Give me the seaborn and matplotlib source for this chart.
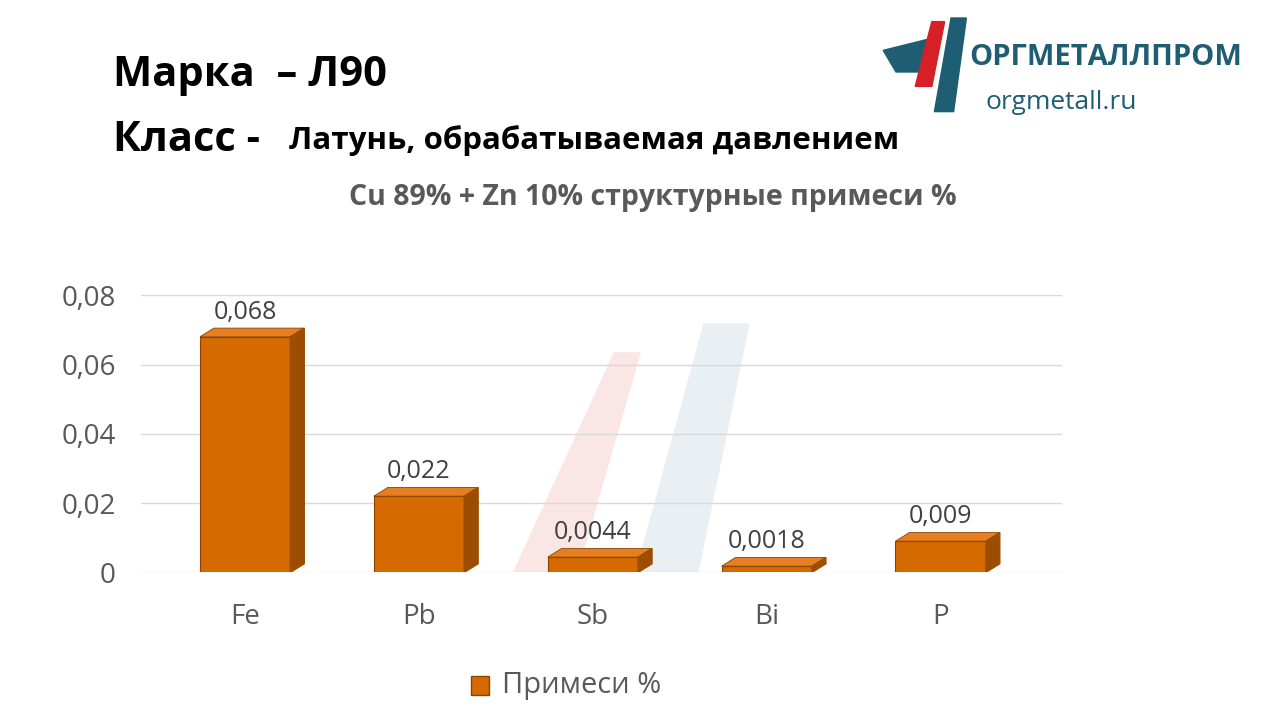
import matplotlib.pyplot as plt
import seaborn as sns
import pandas as pd
from matplotlib.patches import Polygon

elements = ['Fe', 'Pb', 'Sb', 'Bi', 'P']
values = [0.068, 0.022, 0.0044, 0.0018, 0.009]
labels = ['0,068', '0,022', '0,0044', '0,0018', '0,009']
yticks = [0, 0.02, 0.04, 0.06, 0.08]
ytick_labels = ['0', '0,02', '0,04', '0,06', '0,08']

df = pd.DataFrame({'el': elements, 'val': values})
orange = '#D46A00'

fig = plt.figure(figsize=(12.8, 7.2), dpi=100)
fig.patch.set_facecolor('white')

ax = fig.add_axes([0.11, 0.205, 0.72, 0.385])
ax.set_facecolor('none')

# faint watermark behind the bars
ax.add_patch(Polygon([[0.40, 0.2], [0.45, 0.2], [0.50, 0.51], [0.48, 0.51]], closed=True,
                     transform=fig.transFigure, color='#fbe6e6', zorder=1))
ax.add_patch(Polygon([[0.49, 0.16], [0.54, 0.16], [0.585, 0.55], [0.55, 0.55]], closed=True,
                     transform=fig.transFigure, color='#e9eff2', zorder=1))

sns.barplot(data=df, x='el', y='val', color=orange, width=0.52, ax=ax, zorder=3,
            edgecolor='#8a4300', linewidth=0.8, saturation=1)
for i, (v, lab) in enumerate(zip(values, labels)):
    # simple top and side faces for a 3D look
    ax.add_patch(Polygon([[i - 0.26, v], [i + 0.26, v], [i + 0.34, v + 0.0025], [i - 0.18, v + 0.0025]],
                         closed=True, color='#E67E22', ec='#8a4300', lw=0.6, zorder=4))
    ax.add_patch(Polygon([[i + 0.26, 0], [i + 0.26, v], [i + 0.34, v + 0.0025], [i + 0.34, 0.0025]],
                         closed=True, color='#9c4d00', zorder=4))
    ax.text(i, v + 0.0035, lab, ha='center', va='bottom', fontsize=18, color='#404040',
            family='Open Sans', zorder=5)

ax.set_ylim(0, 0.08)
ax.set_xlim(-0.6, 4.7)
ax.set_yticks(yticks)
ax.set_yticklabels(ytick_labels, fontsize=20, color='#595959', family='Open Sans')
ax.tick_params(axis='x', labelsize=20, colors='#595959', length=0, pad=22)
for t in ax.get_xticklabels():
    t.set_family('Open Sans')
ax.tick_params(axis='y', length=0, pad=18)
ax.grid(axis='y', color='#d9d9d9', lw=1, zorder=0)
ax.set_xlabel('')
ax.set_ylabel('')
for s in ax.spines.values():
    s.set_visible(False)

fig.text(0.088, 0.895, 'Марка  – Л90', fontsize=30, fontweight='bold', family='Open Sans', va='center')
fig.text(0.088, 0.805, 'Класс - ', fontsize=30, fontweight='bold', family='Open Sans', va='center')
fig.text(0.226, 0.805, 'Латунь, обрабатываемая давлением', fontsize=22.5, fontweight='bold',
         family='Open Sans', va='center')
fig.text(0.51, 0.725, 'Cu 89% + Zn 10% структурные примеси %', fontsize=20.5, fontweight='bold',
         color='#595959', family='Open Sans', ha='center', va='center')

# logo
fig.patches.append(Polygon([[0.69, 0.93], [0.735, 0.95], [0.72, 0.90], [0.70, 0.90]], closed=True,
                           transform=fig.transFigure, color='#1f5d73'))
fig.patches.append(Polygon([[0.715, 0.88], [0.728, 0.88], [0.738, 0.97], [0.728, 0.97]], closed=True,
                           transform=fig.transFigure, color='#d62027'))
fig.patches.append(Polygon([[0.73, 0.845], [0.745, 0.845], [0.755, 0.975], [0.743, 0.975]], closed=True,
                           transform=fig.transFigure, color='#1f5d73'))
fig.text(0.757, 0.92, 'ОРГМЕТАЛЛПРОМ', fontsize=21, fontweight='bold', color='#1f5d73',
         family='Open Sans', va='center')
fig.text(0.77, 0.858, 'orgmetall.ru', fontsize=19, color='#1f5d73', family='Open Sans', va='center')

# legend
fig.patches.append(plt.Rectangle((0.368, 0.035), 0.014, 0.026, transform=fig.transFigure,
                                 color=orange, ec='#8a4300'))
fig.text(0.392, 0.048, 'Примеси %', fontsize=21, color='#595959', family='Open Sans', va='center')

fig.savefig('out.png', dpi=100)
